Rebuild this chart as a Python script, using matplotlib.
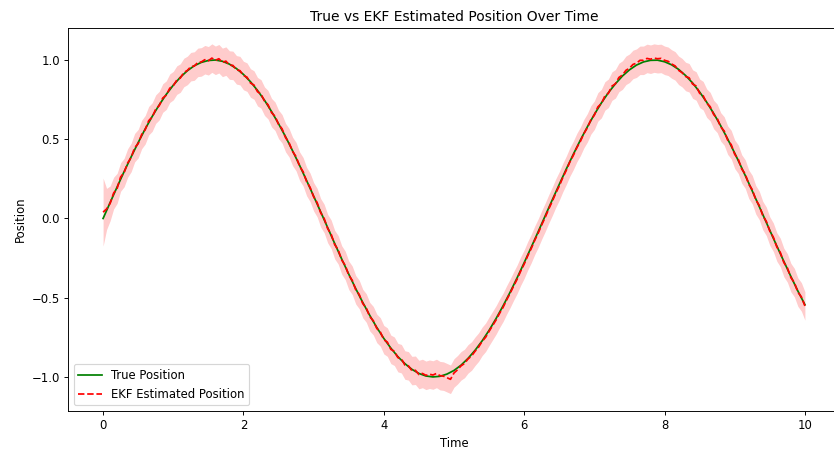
import numpy as np
import matplotlib
matplotlib.use("Agg")
import matplotlib.pyplot as plt

# Sample times
time_true = [round(0.1 * i, 2) for i in range(101)]
time_est = [round(0.05 * i, 2) for i in range(201)]

# True position (sampled every 0.1 s)
true_position = [
    0.000, 0.100, 0.199, 0.296, 0.389, 0.479, 0.565, 0.644, 0.717, 0.783,
    0.841, 0.891, 0.932, 0.964, 0.985, 0.997, 1.000, 0.992, 0.974, 0.946,
    0.909, 0.863, 0.808, 0.746, 0.675, 0.598, 0.516, 0.427, 0.335, 0.239,
    0.141, 0.042, -0.058, -0.158, -0.256, -0.351, -0.443, -0.530, -0.612, -0.688,
    -0.757, -0.818, -0.872, -0.916, -0.952, -0.978, -0.994, -1.000, -0.996, -0.982,
    -0.959, -0.926, -0.883, -0.832, -0.773, -0.706, -0.631, -0.551, -0.465, -0.374,
    -0.279, -0.182, -0.083, 0.017, 0.117, 0.215, 0.312, 0.405, 0.494, 0.578,
    0.657, 0.729, 0.794, 0.850, 0.899, 0.938, 0.968, 0.988, 0.998, 0.999,
    0.989, 0.970, 0.941, 0.902, 0.855, 0.798, 0.734, 0.663, 0.585, 0.501,
    0.412, 0.319, 0.223, 0.124, 0.025, -0.075, -0.174, -0.271, -0.366, -0.458,
    -0.544,
]

# EKF estimated position (sampled every 0.05 s)
ekf_position = [
    0.040, 0.060, 0.095, 0.160, 0.190, 0.262, 0.290, 0.350, 0.385, 0.447,
    0.472, 0.530, 0.560, 0.617, 0.640, 0.690, 0.712, 0.760, 0.778, 0.822,
    0.838, 0.873, 0.886, 0.921, 0.934, 0.958, 0.962, 0.985, 0.988, 1.002,
    0.995, 1.012, 0.998, 1.008, 0.985, 0.993, 0.968, 0.966, 0.938, 0.933,
    0.902, 0.892, 0.855, 0.842, 0.800, 0.786, 0.740, 0.718, 0.668, 0.645,
    0.594, 0.566, 0.510, 0.478, 0.423, 0.390, 0.330, 0.295, 0.233, 0.196,
    0.137, 0.100, 0.036, 0.000, -0.064, -0.100, -0.165, -0.198, -0.262, -0.296,
    -0.358, -0.390, -0.450, -0.480, -0.537, -0.565, -0.620, -0.645, -0.694, -0.716,
    -0.765, -0.780, -0.826, -0.838, -0.878, -0.885, -0.925, -0.930, -0.960, -0.958,
    -0.985, -0.978, -0.990, -0.983, -0.988, -0.978, -0.992, -0.995, -1.005, -1.015,
    -0.975, -0.955, -0.930, -0.915, -0.886, -0.868, -0.838, -0.812, -0.776, -0.750,
    -0.712, -0.676, -0.640, -0.598, -0.560, -0.514, -0.472, -0.426, -0.383, -0.332,
    -0.288, -0.236, -0.190, -0.138, -0.092, -0.040, 0.008, 0.060, 0.108, 0.160,
    0.205, 0.258, 0.304, 0.356, 0.398, 0.447, 0.486, 0.535, 0.572, 0.622,
    0.652, 0.704, 0.725, 0.773, 0.790, 0.835, 0.850, 0.890, 0.905, 0.935,
    0.948, 0.972, 0.980, 0.998, 0.998, 1.010, 1.005, 1.012, 1.008, 1.010,
    0.998, 0.992, 0.975, 0.963, 0.935, 0.920, 0.896, 0.888, 0.848, 0.836,
    0.790, 0.775, 0.728, 0.706, 0.656, 0.632, 0.578, 0.552, 0.494, 0.466,
    0.405, 0.374, 0.312, 0.280, 0.216, 0.182, 0.118, 0.082, 0.018, -0.018,
    -0.080, -0.118, -0.180, -0.215, -0.278, -0.312, -0.373, -0.405, -0.465, -0.495,
    -0.552,
]

# Uncertainty half-width: large at start, then settles to a steady value
initial_halfwidth = [0.215, 0.13, 0.11, 0.10, 0.095]
steady_halfwidth = 0.09

halfwidth = np.full(len(time_est), steady_halfwidth)
halfwidth[:len(initial_halfwidth)] = initial_halfwidth
est = np.array(ekf_position)

# Compact styling: everything scaled down uniformly
s = 0.834
plt.rcParams.update({
    "font.size": 10 * s,
    "axes.titlesize": 12 * s,
    "axes.titlepad": 6 * s,
    "axes.labelpad": 4 * s,
    "axes.linewidth": 0.8 * s,
    "lines.linewidth": 1.5 * s,
    "xtick.major.size": 3.5 * s,
    "ytick.major.size": 3.5 * s,
    "xtick.major.width": 0.8 * s,
    "ytick.major.width": 0.8 * s,
    "xtick.major.pad": 3.5 * s,
    "ytick.major.pad": 3.5 * s,
    "legend.fontsize": 10 * s,
    "patch.linewidth": 1.0 * s,
})

fig = plt.figure(figsize=(8.34, 4.5), dpi=100)
ax = fig.add_axes([68 / 834, 39 / 450, 772 / 834, 383 / 450])

ax.plot(time_true, true_position, color="green", label="True Position")
ax.plot(time_est, ekf_position, "r--", label="EKF Estimated Position")
ax.fill_between(time_est, est - halfwidth, est + halfwidth, color="red", alpha=0.2, linewidth=0)

ax.set_xlim(-0.5, 10.5)
ax.set_ylim(-1.215, 1.202)
ax.set_xticks([0, 2, 4, 6, 8, 10])
ax.set_yticks([-1.0, -0.5, 0.0, 0.5, 1.0])
ax.set_title("True vs EKF Estimated Position Over Time")
ax.set_xlabel("Time")
ax.set_ylabel("Position")
ax.legend(loc="lower left")

fig.savefig("out.png", dpi=100)
